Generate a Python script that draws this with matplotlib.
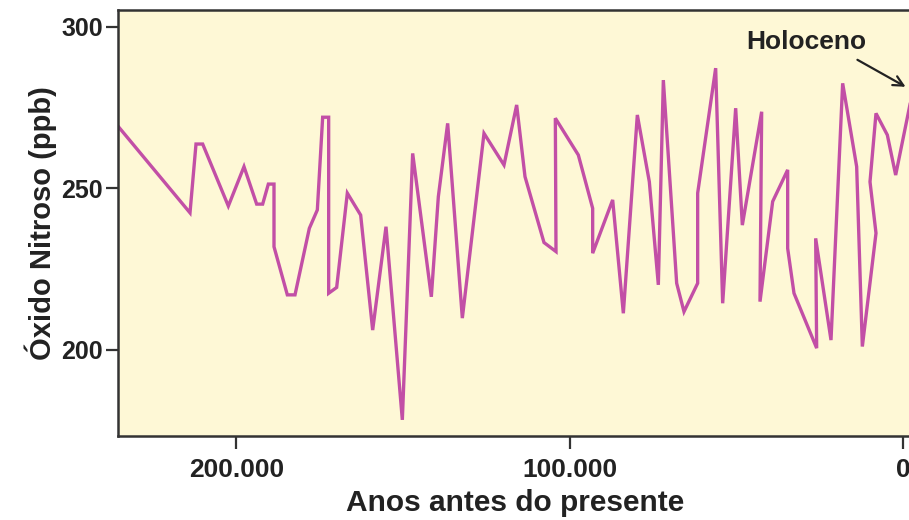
import matplotlib.pyplot as plt

# anos antes do presente (eixo invertido) e N2O em ppb
years = [235400, 213900, 212100, 210100, 202400, 197700, 193900, 192100, 190400, 188700,
         188700, 184700, 182400, 178100, 175700, 174100, 172300, 172300, 169900, 166700,
         162700, 159100, 155100, 150200, 147100, 141500, 139400, 136600, 132200, 125700,
         119700, 115900, 113400, 107700, 104100, 104300, 97400, 93100, 93100, 87100,
         83900, 79700, 76100, 73400, 71900, 67900, 65700, 61600, 61600, 56200,
         54100, 50200, 48200, 42400, 42900, 39100, 34600, 34600, 32700, 25900,
         26200, 21600, 18100, 13900, 12200, 8100, 9900, 8100, 4700, 2200, -2700]
n2o = [269.1, 242.4, 263.7, 263.7, 244.5, 256.7, 245.1, 245.1, 251.3, 251.3,
       231.9, 217.0, 217.0, 237.6, 243.3, 272.0, 272.0, 217.5, 219.3, 248.5,
       241.7, 206.1, 238.1, 178.3, 260.8, 216.4, 247.4, 270.1, 209.8, 267.0,
       257.2, 275.8, 253.6, 233.2, 230.4, 271.7, 260.3, 243.8, 229.9, 246.4,
       211.3, 272.7, 252.0, 220.1, 283.5, 220.6, 211.8, 220.6, 248.5, 287.2,
       214.4, 274.8, 238.6, 273.7, 214.9, 245.9, 255.7, 231.4, 217.5, 200.5,
       234.5, 203.0, 282.5, 256.7, 201.0, 236.1, 252.0, 273.2, 266.5, 254.1, 279.0]

xticks = [200000, 100000, 0]
xtick_labels = ['200.000', '100.000', '0']
yticks = [200, 250, 300]

plt.rcParams['font.family'] = ['Liberation Sans', 'DejaVu Sans']
plt.rcParams['font.weight'] = 'bold'

fig = plt.figure(figsize=(9.09, 5.2), dpi=100)
ax = fig.add_axes([118 / 909, 84 / 520, 794 / 909, 426 / 520])
ax.set_facecolor('#fef8d6')

ax.plot(years, n2o, color='#c24fa6', lw=2.4, solid_joinstyle='miter')

ax.set_xlim(235500, -2700)
ax.set_ylim(173.3, 305.2)

ax.set_xticks(xticks)
ax.set_xticklabels(xtick_labels, fontsize=19, fontweight='bold', color='#222222')
ax.set_yticks(yticks)
ax.set_yticklabels([str(v) for v in yticks], fontsize=18, fontweight='bold', color='#222222')
ax.tick_params(axis='both', direction='out', length=9, width=1.6, color='#333333')
ax.tick_params(axis='x', pad=7)
ax.tick_params(axis='y', pad=2)

for side in ['left', 'bottom', 'top']:
    ax.spines[side].set_linewidth(1.8)
    ax.spines[side].set_color('#333333')
ax.spines['right'].set_visible(False)

ax.set_xlabel('Anos antes do presente', fontsize=21.5, fontweight='bold', color='#222222', labelpad=5)
ax.set_ylabel('Óxido Nitroso (ppb)', fontsize=21, fontweight='bold', color='#222222', labelpad=3)

ax.text(28900, 295.3, 'Holoceno', fontsize=19, fontweight='bold', color='#222222',
        ha='center', va='center')
ax.annotate('', xy=(-1500, 281), xytext=(14400, 290.2),
            arrowprops=dict(arrowstyle='->', color='#222222', lw=1.6, mutation_scale=18),
            annotation_clip=False)

fig.savefig('out.png', dpi=100)
